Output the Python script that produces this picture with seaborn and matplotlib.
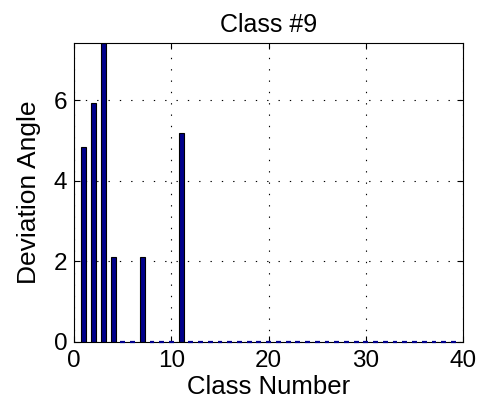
import numpy as np
import pandas as pd
import matplotlib
matplotlib.use("Agg")
import matplotlib.pyplot as plt
import seaborn as sns

# Deviation angle per class, classes 1..39
class_numbers = list(range(1, 40))
deviation = [4.83, 5.92, 7.42, 2.12, 0, 0, 2.12, 0, 0, 0,
             5.18] + [0] * 28

title_text = "Class #9"
x_label = "Class Number"
y_label = "Deviation Angle"
x_ticks = [0, 10, 20, 30, 40]
y_ticks = [0, 2, 4, 6]

bar_color = "#00008b"

df = pd.DataFrame({"cls": class_numbers, "dev": deviation})

sns.set_theme(style="white")
plt.rcParams["font.family"] = ["Liberation Sans", "DejaVu Sans"]
plt.rcParams.update({
    "text.color": "black",
    "axes.labelcolor": "black",
    "xtick.color": "black",
    "ytick.color": "black",
})

fig = plt.figure(figsize=(4.88, 4.17), dpi=100)
ax = fig.add_axes([0.152, 0.18, 0.797, 0.717])

sns.barplot(data=df, x="cls", y="dev", native_scale=True, width=0.5,
            color=bar_color, saturation=1, edgecolor="black", linewidth=0.8,
            ax=ax)

# zero-height bars show up as short coloured dashes along the baseline
for p in ax.patches:
    if p.get_height() == 0:
        p.set_edgecolor(bar_color)
        p.set_linewidth(1.6)
        p.set_clip_on(False)
        p.set_zorder(3)

ax.set_xlim(0, 40)
ax.set_ylim(0, max(deviation))
ax.set_xticks(x_ticks)
ax.set_yticks(y_ticks)
ax.set_xticklabels([str(t) for t in x_ticks])
ax.set_yticklabels([str(t) for t in y_ticks])

ax.grid(True, color="black", linestyle=(0, (1.2, 9)), linewidth=0.8)
ax.set_axisbelow(True)
ax.tick_params(direction="in", length=4, width=0.8, labelsize=17.5,
               colors="black", top=True, right=True, bottom=True, left=True)
ax.tick_params(axis="x", pad=6)
ax.tick_params(axis="y", pad=5)
for s in ax.spines.values():
    s.set_color("black")
    s.set_linewidth(0.8)

ax.set_title(title_text, fontsize=18, pad=8, color="black")
ax.set_xlabel(x_label, fontsize=18.5, labelpad=2, color="black")
ax.set_ylabel(y_label, fontsize=19, labelpad=9, color="black")

fig.savefig("out.png", dpi=100, facecolor="white")
